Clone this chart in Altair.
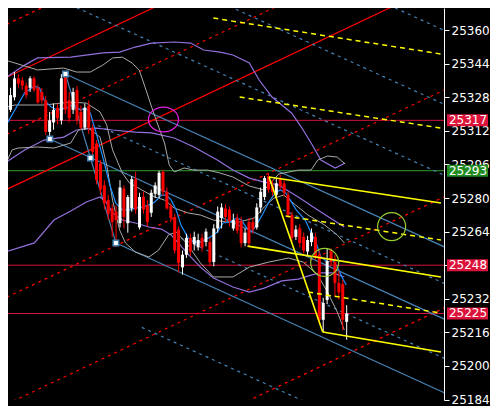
import altair as alt
import pandas as pd

W, H = 436, 392
K_DOMAIN = [1.625, 110.625]
P_DOMAIN = [25183.8, 25370.5]
TICKS = [25184, 25200, 25216, 25232, 25248, 25264, 25280, 25296, 25312, 25328, 25344, 25360]
FONT = "DejaVu Sans"

# ---- candles (one per bar index 0..87) ----
OPEN = [25317, 25322, 25328, 25337, 25336, 25333.5, 25332.5, 25337, 25332.5, 25330.5,
        25326.5, 25311.5, 25316, 25323, 25317, 25338, 25326.5, 25322, 25331.5, 25321,
        25313.5, 25324, 25313.5, 25306, 25296.5, 25286, 25279, 25275, 25273.5, 25268,
        25284.5, 25268, 25275, 25289, 25266, 25280.5, 25276.5, 25273, 25282, 25281.5,
        25292.5, 25283, 25276, 25271, 25265, 25247, 25253, 25261, 25258, 25256.5,
        25261, 25259, 25259, 25249.5, 25265.5, 25270.5, 25275, 25274.5, 25265.5, 25270.5,
        25269, 25258.5, 25268.5, 25268.5, 25266, 25275.5, 25280.5, 25290.5, 25286, 25281.5,
        25289.5, 25287, 25281.5, 25272, 25261.5, 25265.5, 25261.5, 25254.5, 25259, 25261.5,
        25253, 25222, 25231.5, 25254.5, 25249.5, 25239.5, 25239, 25221]
HIGH = [25326.5, 25332.5, 25340, 25339, 25337.5, 25335, 25338, 25338, 25334, 25332.5,
        25328.5, 25321, 25325, 25325, 25339, 25339.5, 25330.5, 25332.5, 25333.5, 25324,
        25325, 25326.5, 25315, 25307.5, 25298, 25288.5, 25281.5, 25277, 25276.5, 25288.5,
        25286, 25281.5, 25290.5, 25292.5, 25282.5, 25283, 25279, 25284, 25287.5, 25293,
        25293.5, 25285, 25277.5, 25272.5, 25266.5, 25255, 25263, 25263, 25264, 25263,
        25263, 25265.5, 25261, 25267.5, 25276, 25277.5, 25277, 25276, 25272.5, 25272.5,
        25271, 25265.5, 25270.5, 25270.5, 25277.5, 25285, 25290.5, 25291.5, 25288.5, 25289.5,
        25291, 25288.5, 25283, 25273.5, 25267, 25267.5, 25263.5, 25262, 25265.5, 25263.5,
        25255, 25232.5, 25256, 25256, 25253, 25245.5, 25241, 25229]
LOW = [25316, 25321, 25326.5, 25332.5, 25331.5, 25327.5, 25330.5, 25330.5, 25325, 25325,
       25310, 25308, 25312.5, 25315, 25315, 25320, 25316, 25320, 25315, 25312.5,
       25312.5, 25310.5, 25300, 25286.5, 25281.5, 25274.5, 25269.5, 25261.5, 25260, 25266,
       25265.5, 25263.5, 25273.5, 25272.5, 25265, 25272.5, 25266.5, 25271, 25280, 25280,
       25281, 25274.5, 25268.5, 25253.5, 25244.5, 25243.5, 25251.5, 25252.5, 25255, 25255,
       25254.5, 25257, 25247.5, 25247.5, 25263.5, 25265.5, 25268.5, 25266.5, 25264.5, 25263,
       25256.5, 25257, 25257, 25263, 25265, 25273, 25279, 25282.5, 25281, 25280,
       25284, 25280.5, 25270.5, 25259, 25260, 25256.5, 25253.5, 25252.5, 25257, 25250.5,
       25220, 25216, 25229.5, 25247.5, 25233, 25231.5, 25217, 25212.5]
CLOSE = [25323.5, 25329, 25337, 25334.5, 25333.5, 25329, 25337, 25331.5, 25325.5, 25326.5,
         25311.5, 25317, 25322, 25318, 25337, 25322, 25318, 25330.5, 25317, 25313.5,
         25323, 25313.5, 25302, 25288.5, 25284, 25277.5, 25272.5, 25268.5, 25269.5, 25285,
         25271, 25280.5, 25289, 25274.5, 25280.5, 25274.5, 25268.5, 25282.5, 25286, 25292,
         25283, 25275, 25270.5, 25255, 25249, 25253, 25261, 25254.5, 25261.5, 25260,
         25256.5, 25264, 25249.5, 25265.5, 25273.5, 25275.5, 25271, 25269, 25269.5, 25264.5,
         25258.5, 25263.5, 25258.5, 25265, 25275.5, 25283, 25289.5, 25284, 25283, 25287,
         25285.5, 25282.5, 25272, 25261, 25265, 25258.5, 25255, 25260, 25263.5, 25252,
         25222, 25230, 25250, 25249.5, 25239.5, 25235, 25222, 25225]

# ---- indicator curves (bar index, price) ----
MA_K = [-0.4, 2.1, 4.6, 7.1, 8.4, 9.6, 11.4, 12.9, 15.4, 17.1, 18.9, 20.1, 21.4, 22.9, 24.6,
        26.4, 27.9, 29.6, 31.4, 32.9, 34.6, 36.4, 37.9, 39.6, 40.9, 42.1, 43.4, 44.6, 46.4,
        47.9, 49.6, 52.1, 53.9, 55.4, 57.1, 58.9, 60.1, 61.4, 62.6, 63.9, 65.4, 67.1, 68.9,
        70.1, 71.4, 72.6, 74.1, 76.4, 77.9, 79.1, 80.4, 82.1, 83.4, 84.6, 85.9, 86.9]
MA_P = [25313.8, 25321.9, 25330.0, 25333.3, 25332.4, 25326.7, 25323.3, 25321.9, 25322.9, 25324.3,
        25321.9, 25322.9, 25320.5, 25311.0, 25299.5, 25286.2, 25277.6, 25274.3, 25274.3, 25275.2,
        25275.7, 25276.7, 25278.1, 25281.4, 25281.4, 25279.0, 25274.3, 25267.1, 25261.0, 25259.0,
        25259.0, 25261.4, 25263.8, 25268.1, 25268.6, 25270.5, 25269.5, 25265.7, 25263.8, 25267.1,
        25271.9, 25278.1, 25282.9, 25283.8, 25282.4, 25279.0, 25274.3, 25269.5, 25263.3, 25259.0,
        25251.9, 25249.5, 25250.5, 25247.1, 25241.9, 25238.6]

PU_K = [-0.4, 4.6, 7.9, 16.4, 24.6, 28.9, 32.9, 37.1, 42.9, 47.1, 50.4, 54.6, 57.9, 62.1,
        64.6, 67.9, 72.9, 75.4, 77.9, 80.4, 84.1, 86.6]
PU_P = [25337.1, 25343.3, 25346.7, 25347.1, 25349.1, 25349.5, 25351.9, 25353.8, 25354.3,
        25353.8, 25350.5, 25349.5, 25348.1, 25344.3, 25336.2, 25328.1, 25320.5, 25313.8,
        25306.2, 25298.1, 25294.3, 25296.7]
PM_K = [-0.4, 4.6, 9.6, 14.6, 17.9, 22.9, 27.1, 32.9, 37.1, 42.9, 47.9, 53.9, 57.9, 62.1,
        65.9, 69.6, 74.6, 79.6, 86.4]
PM_P = [25296.7, 25302.9, 25307.6, 25309.0, 25312.4, 25313.3, 25312.4, 25311.4, 25311.0,
        25308.6, 25304.3, 25298.1, 25293.3, 25289.5, 25287.6, 25286.2, 25280.5, 25274.3, 25266.2]
PL_K = [-0.4, 7.1, 12.1, 16.4, 20.4, 23.9, 25.4, 27.1, 29.6, 32.9, 36.4, 39.6, 42.1, 43.9,
        46.4, 49.6, 52.9, 57.9, 62.1, 65.9, 70.4, 74.6, 77.9, 80.1, 83.4, 86.4]
PL_P = [25254.3, 25258.6, 25269.5, 25273.8, 25278.1, 25280.5, 25278.1, 25272.9, 25269.5,
        25268.1, 25266.2, 25265.2, 25262.4, 25258.6, 25253.3, 25247.1, 25241.9, 25237.6,
        25235.2, 25237.1, 25240.5, 25241.4, 25243.3, 25244.3, 25244.3, 25242.4]

GU_K = [-0.4, 2.1, 7.9, 14.6, 17.9, 21.4, 24.6, 27.1, 29.6, 32.1, 33.9, 35.4, 37.1, 38.9,
        40.4, 41.6, 42.9, 45.4, 47.9, 51.4, 54.6, 57.9, 62.1, 65.9, 69.6, 74.6, 77.9, 79.6,
        82.1, 84.6, 86.6]
GU_P = [25345.7, 25344.3, 25341.0, 25341.9, 25340.0, 25340.0, 25343.3, 25346.7, 25347.1,
        25344.3, 25341.0, 25332.9, 25323.3, 25313.8, 25306.2, 25295.7, 25292.4, 25294.3,
        25293.3, 25293.3, 25291.9, 25290.0, 25285.7, 25283.8, 25291.4, 25293.3, 25293.3,
        25298.1, 25300.0, 25299.5, 25296.2]
GM_K = [-0.4, 2.1, 9.6, 16.4, 20.4, 23.9, 25.6, 27.1, 29.6, 31.4, 34.6, 37.9, 40.4, 42.9,
        46.4, 49.6, 52.9, 56.4, 59.6, 63.4, 65.9, 68.4, 70.9, 73.9, 77.1, 81.4, 84.6, 86.4]
GM_P = [25323.3, 25324.3, 25324.3, 25325.7, 25325.2, 25321.0, 25314.8, 25302.9, 25291.9,
        25287.2, 25283.8, 25280.5, 25279.0, 25275.2, 25272.9, 25271.9, 25269.5, 25268.6,
        25268.6, 25270.5, 25275.7, 25280.0, 25281.4, 25276.7, 25271.9, 25267.1, 25262.4, 25258.6]
GL_K = [-0.4, 1.4, 2.9, 7.9, 12.1, 16.4, 18.4, 20.9, 23.9, 25.6, 27.1, 28.9, 30.4, 32.9,
        36.4, 38.9, 41.4, 43.4, 46.4, 49.6, 52.9, 57.9, 62.1, 67.1, 72.1, 75.9, 79.6, 82.1,
        84.6, 86.4]
GL_P = [25295.7, 25302.9, 25303.8, 25304.3, 25303.8, 25306.2, 25312.4, 25313.3, 25309.0,
        25295.7, 25279.0, 25264.8, 25258.6, 25254.3, 25251.9, 25255.2, 25262.4, 25263.8,
        25257.6, 25249.0, 25242.4, 25242.4, 25247.1, 25249.5, 25251.4, 25249.5, 25243.3,
        25235.2, 25225.7, 25217.1]

# ---- drawn objects: straight lines (start bar, start price, end bar, end price) ----
RED_SOLID = [(0, 25337.5, 112, 25436.3), (0, 25284.1, 112, 25382.9)]
RED_DOT = [(0, 25362.7, 112, 25461.5), (0, 25310.3, 112, 25409.1), (0, 25232.7, 112, 25331.5),
           (0, 25181.8, 112, 25280.6), (0, 25128.9, 112, 25227.7)]
BLUE_DOT = [(0, 25454.9, 112, 25359.8), (0, 25419.7, 112, 25324.6), (0, 25385.9, 112, 25290.8),
            (23.4, 25314.5, 112, 25239.3), (44.6, 25260.8, 112, 25203.6),
            (34.6, 25218.4, 112, 25152.7), (37.1, 25182.5, 112, 25118.9)]
BLUE_SOLID = [(15.05, 25339.05, 112, 25256.7), (11.05, 25308.1, 112, 25222.3),
              (27.95, 25258.6, 112, 25187.2), (15.05, 25339.05, 21.45, 25299.05),
              (21.45, 25299.05, 27.95, 25258.6)]
YELLOW_SOLID = [(67.125, 25290.0, 111.125, 25277.6), (61.625, 25257.1, 111.125, 25242.4),
                (80.875, 25216.2, 111.125, 25206.7), (67.125, 25290.0, 80.875, 25216.2)]
YELLOW_DASH = [(52.875, 25365.7, 111.125, 25348.6), (59.625, 25328.1, 111.125, 25313.3),
               (71.375, 25271.4, 111.125, 25260.0), (77.125, 25235.2, 111.125, 25225.2)]

PIVOT_K = [15.05, 11.05, 21.45, 27.95]
PIVOT_P = [25339.05, 25308.1, 25299.05, 25258.6]

GREEN_CIRCLE_K = [98.5, 81.375]
GREEN_CIRCLE_P = [25266.4, 25249.3]
MAGENTA_K = [40.125]
MAGENTA_P = [25317.4]

HLINE_P = [25317, 25293, 25248, 25225]
HLINE_COL = ["#D2143C", "#2E9E2E", "#D2143C", "#D2143C"]
TAG_COL = ["#DC143C", "#228B22", "#DC143C", "#DC143C"]
TAG_TXT = ["25317", "25293", "25248", "25225"]


def segs(lines):
    rows = []
    for i, (k0, p0, k1, p1) in enumerate(lines):
        rows.append({"id": i, "k": k0, "p": p0})
        rows.append({"id": i, "k": k1, "p": p1})
    return pd.DataFrame(rows)


def curves(**series):
    rows = []
    for name, (ks, ps) in series.items():
        for k, p in zip(ks, ps):
            rows.append({"s": name, "k": k, "p": p})
    return pd.DataFrame(rows)


xs = alt.Scale(domain=K_DOMAIN, nice=False, zero=False)
ys = alt.Scale(domain=P_DOMAIN, nice=False, zero=False)
yaxis = alt.Axis(orient="right", values=TICKS, grid=False, domainColor="#FFFFFF",
                 tickColor="#FFFFFF", labelColor="#FFFFFF", tickSize=5, labelPadding=2,
                 labelFont=FONT, labelFontSize=12, labelOverlap=False, title=None,
                 domainWidth=1, tickWidth=1, format="d",
                 labelExpr="datum.value == 25248 ? '' : datum.label")


def X(f="k"):
    return alt.X(f"{f}:Q", scale=xs, axis=None)


def Y(f="p"):
    return alt.Y(f"{f}:Q", scale=ys, axis=yaxis)


bars = pd.DataFrame(list(zip(range(len(OPEN)), OPEN, HIGH, LOW, CLOSE)),
                    columns=["k", "open", "high", "low", "close"])
bars["dir"] = ["up" if c >= o else "down" for o, c in zip(bars["open"], bars["close"])]
ccol = alt.Color("dir:N", scale=alt.Scale(domain=["up", "down"], range=["#FFFFFF", "#FF0000"]),
                 legend=None)

hl = pd.DataFrame({"p": HLINE_P, "col": HLINE_COL})
tags = pd.DataFrame({"p": HLINE_P, "col": TAG_COL, "label": TAG_TXT})


def line_layer(data, color, width=1.0, dash=None, detail="id:N"):
    kw = dict(color=color, strokeWidth=width, clip=True)
    if dash:
        kw["strokeDash"] = dash
    return alt.Chart(data).mark_line(**kw).encode(x=X(), y=Y(), detail=detail)


layers = [
    alt.Chart(hl).mark_rule(strokeWidth=1, clip=True).encode(
        y=Y(), color=alt.Color("col:N", scale=None)),
    line_layer(segs(RED_DOT), "#FF0000", 1.2, [3, 4]),
    line_layer(segs(RED_SOLID), "#FF0000", 1.2),
    line_layer(segs(BLUE_DOT), "#4682B4", 1.2, [3, 4]),
    line_layer(segs(BLUE_SOLID), "#4682B4", 1.2),
    alt.Chart(curves(u=(PU_K, PU_P), m=(PM_K, PM_P), l=(PL_K, PL_P))).mark_line(
        color="#9370DB", strokeWidth=1.2, clip=True).encode(x=X(), y=Y(), detail="s:N"),
    alt.Chart(curves(u=(GU_K, GU_P), m=(GM_K, GM_P), l=(GL_K, GL_P))).mark_line(
        color="#A9A9A9", strokeWidth=1, clip=True).encode(x=X(), y=Y(), detail="s:N"),
    alt.Chart(curves(ma=(MA_K, MA_P))).mark_line(
        color="#1E90FF", strokeWidth=1.2, clip=True).encode(x=X(), y=Y(), detail="s:N"),
    alt.Chart(bars).mark_rule(strokeWidth=1, clip=True).encode(
        x=X(), y=Y("low"), y2=alt.Y2("high:Q"), color=ccol),
    alt.Chart(bars).mark_bar(size=3, clip=True).encode(
        x=X(), y=Y("open"), y2=alt.Y2("close:Q"), color=ccol),
    line_layer(segs(YELLOW_SOLID), "#FFFF00", 1.6),
    line_layer(segs(YELLOW_DASH), "#FFFF00", 1.5, [5, 4]),
    alt.Chart(pd.DataFrame({"k": PIVOT_K, "p": PIVOT_P})).mark_point(
        shape="square", filled=True, fill="#FFFFFF", stroke="#4682B4", strokeWidth=1.5,
        size=30, opacity=1, clip=True).encode(x=X(), y=Y()),
    alt.Chart(pd.DataFrame({"k": GREEN_CIRCLE_K, "p": GREEN_CIRCLE_P})).mark_point(
        shape="circle", filled=False, color="#9ACD32", strokeWidth=1.2, size=784,
        opacity=1, clip=True).encode(x=X(), y=Y()),
    alt.Chart(pd.DataFrame({"k": MAGENTA_K, "p": MAGENTA_P})).mark_point(
        shape="M-1,0A1,0.83,0,1,0,1,0A1,0.83,0,1,0,-1,0Z", filled=False, color="#E020E0",
        strokeWidth=1.2, size=900, opacity=1, clip=True).encode(x=X(), y=Y()),
    alt.Chart(tags).mark_tick(size=41, thickness=12, opacity=1).encode(
        y=Y(), x=alt.value(W + 23.5), color=alt.Color("col:N", scale=None)),
    alt.Chart(tags).mark_text(font=FONT, fontSize=12, color="#FFFFFF", align="center",
                              baseline="middle").encode(
        y=Y(), x=alt.value(W + 24), text="label:N"),
]

chart = alt.layer(*layers).properties(
    width=W, height=H, background="#000000", padding=0
).configure_view(stroke=None)

chart.save("out.html", embed_options={"renderer": "svg", "actions": False})
